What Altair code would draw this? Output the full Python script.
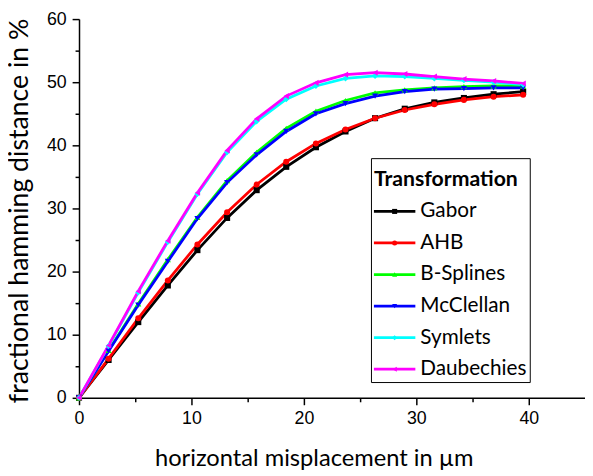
import json
import altair as alt
import pandas as pd

# ---- data ----
x_um = [0, 2.63, 5.27, 7.9, 10.53, 13.17, 15.8, 18.43, 21.07, 23.7, 26.33,
        28.97, 31.6, 34.23, 36.87, 39.5]

gabor      = [0, 6.0, 12.0, 17.8, 23.4, 28.5, 32.9, 36.6, 39.7, 42.2, 44.3, 45.8, 46.8, 47.5, 48.1, 48.5]
ahb        = [0, 6.2, 12.6, 18.6, 24.3, 29.4, 33.8, 37.4, 40.3, 42.5, 44.3, 45.6, 46.5, 47.2, 47.7, 48.0]
bsplines   = [0, 7.5, 14.9, 21.9, 28.6, 34.4, 38.9, 42.7, 45.4, 47.1, 48.3, 48.8, 49.1, 49.3, 49.4, 49.4]
mcclellan  = [0, 7.4, 14.7, 21.6, 28.4, 34.1, 38.5, 42.2, 45.0, 46.6, 47.8, 48.5, 48.9, 49.0, 49.1, 49.1]
symlets    = [0, 8.2, 16.7, 24.7, 32.3, 38.9, 43.8, 47.3, 49.4, 50.6, 51.0, 50.9, 50.6, 50.3, 50.0, 49.6]
daubechies = [0, 8.3, 16.9, 24.9, 32.5, 39.2, 44.2, 47.8, 49.9, 51.2, 51.5, 51.3, 50.9, 50.5, 50.2, 49.8]

names = ["Gabor", "AHB", "B-Splines", "McClellan", "Symlets", "Daubechies"]
series = [gabor, ahb, bsplines, mcclellan, symlets, daubechies]
colors = ["#000000", "#ff0000", "#00ff00", "#0000ff", "#00ffff", "#ff00ff"]
shapes = ["square", "circle", "triangle-up", "triangle-down", "diamond", "triangle-left"]

x_ticks = [0, 5, 10, 15, 20, 25, 30, 35, 40]
y_ticks = [0, 5, 10, 15, 20, 25, 30, 35, 40, 45, 50, 55, 60]

rows = []
for i, (n, vals) in enumerate(zip(names, series)):
    for xv, yv in zip(x_um, vals):
        rows.append({"x": xv, "y": yv, "Transformation": n, "idx": str(i)})
df = pd.DataFrame(rows)

idx_domain = [str(i) for i in range(len(names))]

tick_size = {"condition": {"test": "datum.value % 10 === 0", "value": 7}, "value": 4}
label_expr = "datum.value % 10 === 0 ? datum.label : ''"

x_axis = alt.Axis(
    values=x_ticks, labelExpr=label_expr, tickSize=tick_size, grid=False,
    title="horizontal misplacement in µm", titleFont="Lato", titleFontSize=24,
    titleFontWeight="normal", titleColor="black", titleX=238, titleY=69,
    titleBaseline="alphabetic", titleAlign="center",
    labelFont="Liberation Sans", labelFontSize=18, labelColor="black", labelPadding=5,
    domainColor="black", domainWidth=1.5, tickColor="black", tickWidth=1.5,
    labelFlush=False, labelOverlap=False,
)
y_axis = alt.Axis(
    values=y_ticks, labelExpr=label_expr, tickSize=tick_size, grid=False,
    title="fractional hamming distance in %", titleFont="Lato", titleFontSize=27,
    titleFontWeight="normal", titleColor="black", titleX=-52, titleY=194,
    titleAngle=270, titleBaseline="alphabetic", titleAlign="center",
    labelFont="Liberation Sans", labelFontSize=18, labelColor="black", labelPadding=6,
    domainColor="black", domainWidth=1.5, tickColor="black", tickWidth=1.5,
    labelFlush=False, labelOverlap=False,
)

xenc = alt.X("x:Q", scale=alt.Scale(domain=[0, 45], nice=False, zero=False), axis=x_axis)
yenc = alt.Y("y:Q", scale=alt.Scale(domain=[0, 60], nice=False), axis=y_axis)

color_scale = alt.Scale(domain=names, range=colors)

legend_common = dict(
    orient="none", legendX=296, padding=3,
    labelFont="Lato", labelFontSize=21, rowPadding=10,
    symbolOffset=10.5, labelOffset=15.5,
)

legend_lines = alt.Legend(
    **legend_common,
    legendY=141,
    title=["", "Transformation"], titleFont="Lato", titleFontSize=21.5,
    titleFontWeight="bold", titleLineHeight=8, titlePadding=11,
    titleColor="black", labelColor="black",
    strokeColor="black", fillColor="white",
    symbolType="M-4,0H4", symbolSize=110.25, symbolStrokeWidth=2.8,
)

fill_expr = json.dumps(colors) + "[toNumber(datum.value)]"
legend_points = alt.Legend(
    **legend_common,
    legendY=181.5,
    title=None, labelExpr="''",
    symbolSize=26, symbolStrokeWidth=0, symbolOpacity=1,
    symbolFillColor=alt.ExprRef(expr=fill_expr),
)

lines = alt.Chart(df).mark_line(strokeWidth=2.8).encode(
    x=xenc, y=yenc,
    color=alt.Color("Transformation:N", scale=color_scale, legend=legend_lines),
)

points = alt.Chart(df).mark_point(filled=True, size=38, opacity=1).encode(
    x=xenc, y=yenc,
    color=alt.Color("Transformation:N", scale=color_scale, legend=None),
    shape=alt.Shape("idx:N", scale=alt.Scale(domain=idx_domain, range=shapes),
                    legend=legend_points),
)

chart = alt.layer(lines, points).properties(
    width=513, height=384,
    autosize=alt.AutoSizeParams(type="none"),
    padding={"left": 72, "top": 8, "right": 0, "bottom": 75},
    background="white",
).configure_view(stroke=None)

chart.save("out.html", embed_options={"renderer": "svg", "actions": False})
